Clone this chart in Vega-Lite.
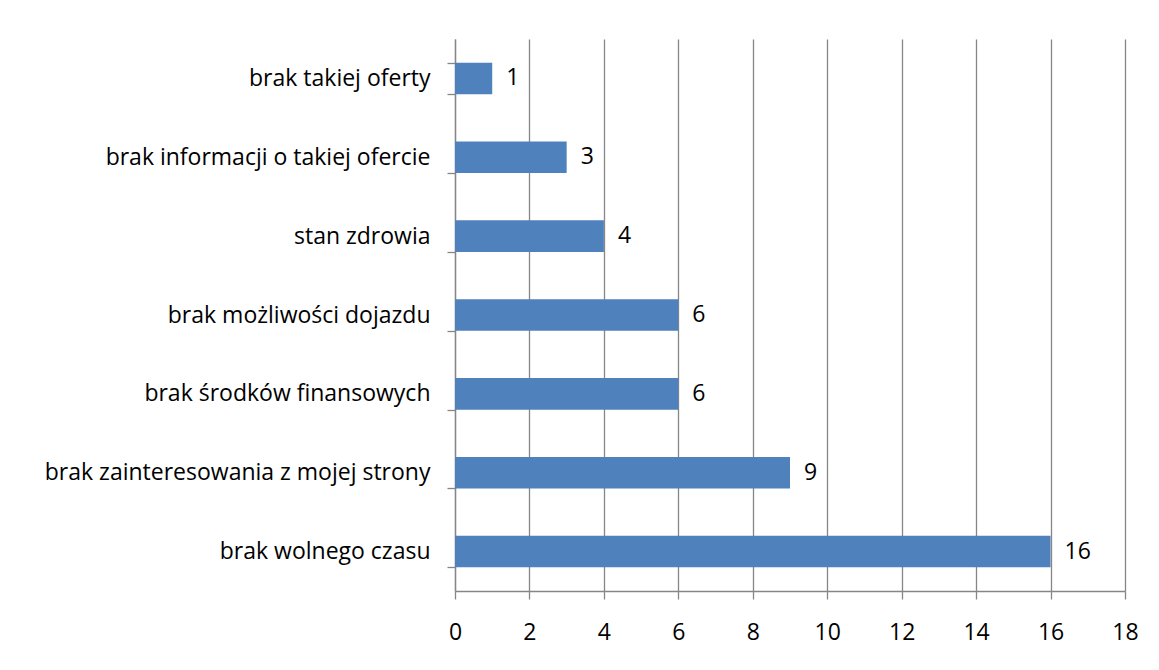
{
  "$schema": "https://vega.github.io/schema/vega-lite/v6.json",
  "autosize": "none",
  "width": 670,
  "height": 552,
  "padding": {"left": 455, "top": 39, "right": 34, "bottom": 79},
  "background": "white",
  "config": {
    "view": {"stroke": null},
    "font": "Open Sans",
    "axis": {
      "labelFont": "Open Sans",
      "labelFontSize": 23,
      "labelColor": "#000000",
      "labelLimit": 600,
      "domainColor": "#868686",
      "tickColor": "#868686",
      "gridColor": "#868686",
      "domainWidth": 1.3,
      "tickWidth": 1.3,
      "gridWidth": 1.3,
      "tickSize": 8,
      "title": null
    }
  },
  "data": {
    "values": [
      {"reason": "brak takiej oferty", "count": 1},
      {"reason": "brak informacji o takiej ofercie", "count": 3},
      {"reason": "stan zdrowia", "count": 4},
      {"reason": "brak możliwości dojazdu", "count": 6},
      {"reason": "brak środków finansowych", "count": 6},
      {"reason": "brak zainteresowania z mojej strony", "count": 9},
      {"reason": "brak wolnego czasu", "count": 16}
    ]
  },
  "encoding": {
    "y": {
      "field": "reason",
      "type": "nominal",
      "sort": null,
      "scale": {"paddingInner": 0.6, "paddingOuter": 0.3},
      "axis": {"tickBand": "extent", "labelPadding": 17, "grid": false}
    },
    "x": {
      "field": "count",
      "type": "quantitative",
      "scale": {"domain": [0, 18], "nice": false},
      "axis": {"values": [0, 2, 4, 6, 8, 10, 12, 14, 16, 18], "grid": true, "labelPadding": 22, "labelFlush": false, "labelOverlap": false}
    }
  },
  "layer": [
    {"mark": {"type": "bar", "color": "#4F81BD"}},
    {
      "mark": {"type": "text", "align": "left", "baseline": "middle", "dx": 14, "fontSize": 23, "color": "#000000", "font": "Open Sans"},
      "encoding": {"text": {"field": "count", "type": "quantitative"}}
    }
  ]
}
